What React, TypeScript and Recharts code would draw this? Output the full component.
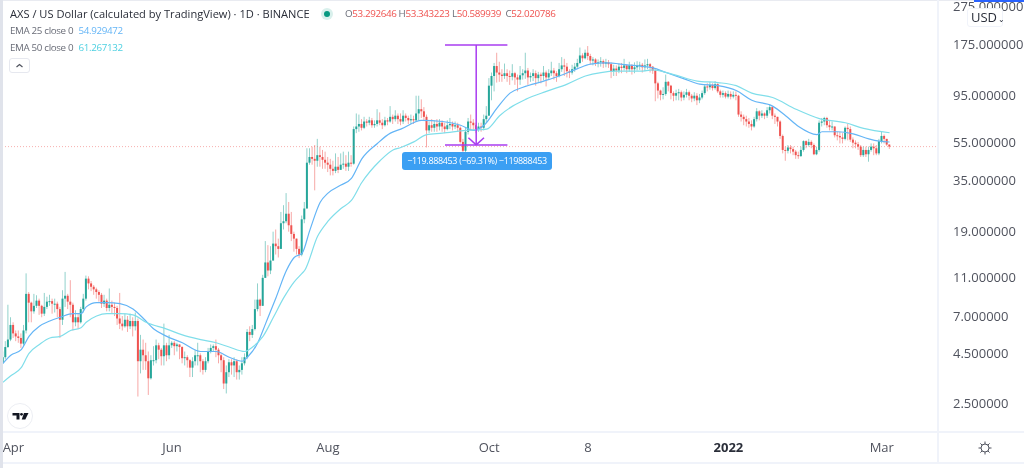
import React from 'react';
import { ComposedChart, Bar, Line, XAxis, YAxis, ReferenceLine } from 'recharts';

// daily closes, 10 per row; each candle opens at the previous close
const closes = [
  4.3, 4.85, 5.3, 6.3, 5.7, 5.5, 5.4, 5.05, 5.9, 9.1,
  8.2, 7.4, 7.9, 8.4, 7.9, 7.2, 7.8, 8.3, 8.35, 8.1,
  8.1, 7.6, 6.7, 8.6, 8.9, 8.3, 8.0, 6.5, 6.9, 6.5,
  7.6, 8.6, 10.9, 10.3, 9.9, 9.6, 9.3, 9.0, 8.1, 8.4,
  7.7, 8.0, 7.8, 7.7, 6.8, 6.4, 6.2, 6.7, 6.2, 6.6,
  6.2, 6.6, 4.1, 4.7, 4.4, 4.1, 3.35, 4.15, 4.15, 4.95,
  4.7, 4.35, 4.95, 4.4, 4.95, 5.1, 4.9, 5.0, 4.85, 4.25,
  4.3, 4.15, 3.8, 4.1, 4.4, 4.4, 4.1, 3.7, 4.1, 4.6,
  4.8, 4.9, 4.7, 4.4, 4.15, 3.15, 3.6, 4.05, 3.9, 4.1,
  3.6, 3.7, 4.0, 4.3, 5.8, 5.6, 6.0, 7.6, 8.5, 7.9,
  11, 13.2, 12, 13.5, 16.5, 16, 15.5, 21, 21.5, 23.5,
  20.5, 18.5, 17.5, 15.5, 14.5, 22, 25, 43, 46, 45,
  44, 47, 46, 44.5, 43, 42, 40, 39, 41, 39.5,
  42, 42.5, 41, 43, 42.5, 64, 66, 68, 65, 70,
  69, 71, 67, 68, 71, 69, 67, 71, 70, 74,
  72, 75, 72, 70, 75, 73, 71, 72, 71, 77,
  81, 79, 74, 63, 67, 65, 68, 66, 69, 66,
  64, 67, 68, 66, 67, 65, 55, 49.5, 62, 70,
  69, 67, 64, 66, 65, 72, 75, 107, 120, 135,
  125, 122, 120, 124, 120, 119, 124, 118, 115, 121,
  124, 128, 118, 120, 124, 117, 122, 120, 125, 118,
  124, 128, 124, 120, 130, 136, 134, 127, 125, 130,
  134, 140, 153, 148, 158, 152, 144, 146, 140, 141,
  143, 139, 141, 138, 127, 131, 128, 134, 132, 136,
  130, 136, 130, 133, 136, 137, 133, 136, 138, 134,
  128, 110, 101, 96, 97, 112, 107, 98, 95, 98,
  99, 93, 96, 99, 95, 92, 95, 90, 93, 98,
  106, 105, 108, 104, 109, 100, 96, 98, 94, 97,
  94, 96, 95, 76, 74, 72, 70, 68, 66, 72,
  79, 75, 77, 75, 80, 83, 75, 74, 70, 59,
  50, 49.5, 51.5, 50.5, 49, 47, 46.5, 50, 55.5, 53,
  55, 53, 47.5, 50, 69, 70, 73, 67, 65.5, 66,
  59.5, 59, 58, 57, 65, 64, 56.5, 54.5, 53.5, 52,
  47, 50, 47.5, 50, 52, 51, 48, 55.5, 59, 57,
  53.29, 52.02,
];

const highs = [
  4.6, 5.2, 8.0, 6.9, 6.5, 5.9, 5.9, 5.7, 6.3, 11.6,
  9.3, 8.3, 9.1, 8.95, 8.6, 8.0, 9.2, 8.8, 9.0, 8.6,
  8.6, 8.3, 7.8, 9.5, 11.8, 9.1, 10.7, 8.2, 7.5, 7.2,
  7.8, 9.1, 11.3, 11.2, 10.6, 10.1, 9.8, 9.5, 9.2, 9.0,
  8.6, 9.7, 8.4, 8.2, 7.9, 9.2, 7.0, 7.2, 7.0, 7.2,
  6.9, 7.3, 6.8, 5.6, 5.3, 5.1, 4.6, 4.4, 4.9, 5.3,
  5.1, 4.8, 6.4, 5.1, 5.6, 5.2, 5.2, 5.1, 5.0, 4.9,
  4.6, 4.4, 4.2, 4.3, 4.7, 5.1, 4.5, 4.2, 4.3, 4.8,
  5.0, 5.0, 5.3, 4.8, 4.5, 4.3, 3.9, 4.2, 4.2, 4.3,
  4.2, 3.9, 4.3, 4.5, 6.0, 6.2, 6.3, 8.5, 10.3, 8.6,
  11.4, 17, 16.2, 16, 19, 19.5, 17.5, 24, 26, 30,
  27, 24, 19, 17.5, 16, 23, 27, 51, 51, 52,
  53, 57, 52, 50, 49, 46, 45, 44, 48, 46,
  48, 49, 47, 49, 47, 66, 77, 76, 72, 74,
  72, 74, 73, 71, 81, 78, 72, 74, 73, 84,
  76, 80, 77, 77, 80, 77, 75, 76, 75, 95,
  95, 91, 83, 76, 70, 72, 71, 72, 72, 71,
  69, 71, 73, 70, 70, 69, 66, 57, 65, 73,
  76, 72, 69, 69, 69, 76, 84, 117, 125, 140,
  158, 142, 130, 139, 130, 128, 138, 126, 122, 135,
  130, 158, 132, 125, 130, 128, 126, 125, 135, 128,
  130, 142, 132, 127, 140, 150, 147, 140, 130, 137,
  140, 147, 168, 157, 164, 171, 156, 150, 148, 146,
  150, 146, 147, 145, 141, 137, 136, 139, 140, 147,
  138, 142, 138, 141, 143, 142, 140, 146, 147, 140,
  135, 130, 112, 102, 105, 122, 113, 108, 100, 102,
  103, 101, 100, 103, 101, 97, 99, 98, 97, 101,
  108, 110, 112, 110, 113, 110, 102, 101, 100, 101,
  100, 100, 100, 96, 79, 76, 75, 73, 71, 74,
  82, 80, 80, 78, 83, 86, 84, 77, 74, 71,
  60, 52, 53, 53, 52, 50, 49, 52, 56, 56,
  57, 56, 54, 52, 71, 73, 74, 74, 71, 70,
  66, 62, 62, 61, 66, 68, 66, 58, 56, 55,
  53, 52, 52, 52, 54, 54, 53, 57, 62, 60,
  57, 53.34,
];

const lows = [
  4.0, 4.2, 4.8, 5.2, 5.4, 5.2, 5.1, 4.8, 4.9, 5.7,
  6.5, 6.5, 7.2, 7.7, 7.1, 6.9, 7.0, 7.6, 7.9, 7.2,
  7.3, 6.9, 5.4, 6.3, 7.8, 7.6, 6.9, 5.9, 6.2, 6.0,
  6.4, 7.3, 8.4, 9.6, 9.4, 9.0, 8.6, 8.3, 7.7, 7.8,
  7.4, 7.4, 7.2, 7.0, 6.3, 6.0, 5.9, 6.1, 5.8, 6.0,
  5.5, 5.9, 2.7, 3.55, 3.7, 3.7, 2.75, 3.3, 3.9, 4.0,
  4.2, 3.9, 3.9, 4.1, 4.2, 4.8, 4.4, 4.6, 4.2, 4.0,
  3.9, 3.8, 3.4, 3.4, 3.9, 3.9, 3.6, 3.5, 3.6, 4.0,
  4.5, 4.6, 4.3, 4.0, 3.6, 2.95, 2.8, 3.4, 3.5, 3.4,
  3.3, 3.3, 3.5, 3.9, 4.2, 5.2, 5.4, 5.9, 7.4, 7.0,
  7.9, 11, 11.2, 11.5, 13.5, 14.5, 14, 15.5, 19.5, 21,
  19, 17, 15, 14.5, 13.9, 14.2, 21, 25, 42, 42,
  31, 41, 41, 40, 40, 38.5, 37, 37, 38, 38,
  39.5, 40, 39, 39, 41, 42, 61, 62, 63, 64,
  66, 67, 65, 65, 66, 67, 64, 66, 67, 69,
  68, 70, 68, 67, 68, 70, 68, 68, 68, 70,
  71, 73, 71, 51.5, 61, 62, 62, 62, 63, 62,
  61, 63, 64, 63, 64, 62, 54, 48, 47, 60,
  63, 63, 61, 62, 62, 63, 69, 75, 90, 100,
  111, 112, 112, 116, 112, 108, 114, 108, 100, 108,
  115, 116, 108, 112, 113, 107, 112, 110, 114, 106,
  116, 120, 115, 112, 118, 126, 120, 118, 117, 122,
  126, 132, 138, 142, 146, 145, 138, 136, 135, 133,
  134, 132, 133, 132, 117, 120, 120, 124, 124, 128,
  124, 126, 122, 124, 128, 129, 125, 127, 130, 125,
  123, 89, 92, 90, 91, 95, 100, 91, 89, 90,
  90, 89, 90, 93, 90, 88, 89, 85, 87, 91,
  96, 100, 102, 101, 102, 98, 93, 93, 92, 92,
  91, 92, 90, 74, 70, 67, 66, 65, 63, 65,
  70, 71, 73, 72, 73, 77, 72, 68, 66, 57,
  48, 44, 48, 48, 47, 45, 45, 46, 49, 51,
  52, 51, 47, 47, 49, 66, 67, 65, 63, 63,
  58, 56, 54, 54, 56, 56, 55, 51, 51, 50,
  46, 46, 46, 43.5, 49, 47, 47, 47, 54, 54,
  52.5, 50.59,
];

// EMA readings: [candle index, price]
const ema25Points = [
  [0, 4.0], [3, 4.4], [7, 4.7], [10, 5.5], [14, 6.2], [18, 6.6], [22, 6.9], [27, 7.2], [30, 7.2], [32, 7.8],
  [36, 8.2], [40, 8.2], [45, 8.1], [50, 7.6], [54, 6.8], [58, 6.0], [63, 5.5], [69, 5.1], [76, 4.6], [82, 4.6],
  [87, 4.3], [92, 4.1], [94, 4.3], [98, 5.1], [101, 6.4], [105, 8.7], [109, 12], [112, 14], [115, 14.7], [118, 19.3],
  [122, 26.9], [125, 30], [130, 33], [134, 35.7], [138, 45], [144, 54], [149, 61], [153, 64], [161, 71], [169, 70],
  [176, 67], [181, 63], [185, 67], [190, 82], [195, 98], [200, 105], [208, 113], [214, 120], [221, 131], [226, 138],
  [232, 140], [240, 137], [245, 135], [250, 132], [255, 125], [262, 116], [268, 109], [275, 107], [282, 101], [288, 90],
  [296, 84], [301, 75], [306, 66], [313, 60], [315, 62], [321, 62], [327, 60.5], [333, 57], [337, 55.5], [341, 54.93],
];
const ema50Points = [
  [0, 3.2], [3, 3.45], [7, 3.8], [10, 4.5], [14, 5.0], [18, 5.4], [22, 5.5], [26, 5.9], [30, 6.1], [32, 6.5],
  [36, 7.0], [40, 7.2], [45, 7.2], [50, 7.1], [55, 6.5], [63, 6.0], [69, 5.6], [76, 5.3], [82, 5.1], [87, 4.85],
  [93, 4.6], [96, 4.85], [100, 5.5], [104, 6.9], [108, 8.7], [112, 10.5], [115, 11.6], [116, 12], [121, 18], [125, 21.5],
  [130, 25], [134, 27.5], [138, 34], [145, 44], [150, 50], [153, 51.5], [158, 55], [163, 60], [169, 61], [178, 63],
  [186, 64], [191, 75], [196, 84], [201, 91], [209, 100], [217, 109], [224, 120], [230, 125], [236, 127], [245, 127],
  [250, 129], [258, 122], [267, 113], [275, 111], [282, 107], [288, 98], [296, 93], [305, 81], [314, 72.5], [324, 69],
  [331, 64.5], [341, 61.27],
];

const priceTicks = [275, 175, 95, 55, 35, 19, 11, 7, 4.5, 2.5];
const timeTicks = [4, 65, 125, 187, 225, 279, 338];
const timeLabels = ['Apr', 'Jun', 'Aug', 'Oct', '8', '2022', 'Mar'];
const lastPrice = 52.02;

// measure tool drawing
const measureFrom = 172.98;
const measureTo = 53.09;
const measureLeft = 170;
const measureMid = 182;
const measureRight = 194;
const arrowWing = 57.8;
const arrowSpread = 3;

const UP = '#26a69a';
const DOWN = '#ef5350';
const PURPLE = '#a93cf0';
const FONT = '"Open Sans", sans-serif';

const candles = closes.map((close, i) => {
  const open = i === 0 ? 4.0 : closes[i - 1];
  const high = Math.max(highs[i], open, close);
  const low = Math.min(lows[i], open, close);
  return { i, open, close, high, low, range: [low, high] };
});
const ema25 = ema25Points.map(([i, v]) => ({ i, v }));
const ema50 = ema50Points.map(([i, v]) => ({ i, v }));

const Candle = (props: any) => {
  const { x, y, width, height, payload } = props;
  const span = Math.log(payload.high) - Math.log(payload.low);
  const toY = (p: number) => y + (height * (Math.log(payload.high) - Math.log(p))) / span;
  const cx = x + width / 2;
  const top = toY(Math.max(payload.open, payload.close));
  const bottom = toY(Math.min(payload.open, payload.close));
  const color = payload.close >= payload.open ? UP : DOWN;
  return (
    <g>
      <line x1={cx} x2={cx} y1={y} y2={y + height} stroke={color} strokeOpacity={0.5} strokeWidth={1} />
      <rect x={cx - 1} y={top} width={2} height={Math.max(bottom - top, 1)} fill={color} />
    </g>
  );
};

const TimeTick = (props: any) => {
  const { x, y, payload } = props;
  const label = timeLabels[timeTicks.indexOf(payload.value)];
  const bold = label === '2022';
  return (
    <text x={x} y={y} textAnchor="middle" fontFamily={FONT} fontSize={13} fontWeight={bold ? 700 : 400} fill={bold ? '#2a2e39' : '#50535e'}>
      {label}
    </text>
  );
};

const legendRow: React.CSSProperties = { position: 'absolute', left: 10, whiteSpace: 'nowrap', fontFamily: FONT };

const Legend = () => (
  <>
    <div style={{ ...legendRow, top: 6, fontSize: 11.1, color: '#2a2e39' }}>
      AXS / US Dollar (calculated by TradingView) · 1D · BINANCE
    </div>
    <div style={{ position: 'absolute', left: 321, top: 8, width: 12, height: 12, borderRadius: 6, background: '#d9f0ec' }}>
      <div style={{ position: 'absolute', left: 3, top: 3, width: 6, height: 6, borderRadius: 3, background: '#089981' }} />
    </div>
    <div style={{ ...legendRow, left: 345, top: 7, fontSize: 9.8, letterSpacing: -0.35, color: '#ef5350' }}>
      {[['O', '53.292646'], ['H', '53.343223'], ['L', '50.589939'], ['C', '52.020786']].map(([k, v]) => (
        <span key={k} style={{ display: 'inline-block', width: 53.5 }}>
          <span style={{ color: '#6a6d78' }}>{k}</span>
          {v}
        </span>
      ))}
    </div>
    <div style={{ ...legendRow, top: 24, fontSize: 9.8, letterSpacing: -0.35, color: '#6a6d78' }}>
      EMA 25 close 0 <span style={{ color: '#64b5f6', marginLeft: 3 }}>54.929472</span>
    </div>
    <div style={{ ...legendRow, top: 41, fontSize: 9.8, letterSpacing: -0.35, color: '#6a6d78' }}>
      EMA 50 close 0 <span style={{ color: '#4dd0e1', marginLeft: 3 }}>61.267132</span>
    </div>
    <div style={{ position: 'absolute', left: 9, top: 58, width: 21, height: 15, border: '1px solid #e6e8ef', borderRadius: 3, boxSizing: 'border-box' }}>
      <svg width={19} height={13} style={{ display: 'block' }}>
        <path d="M6.5 8 L9.5 5.5 L12.5 8" fill="none" stroke="#50535e" strokeWidth={1.2} />
      </svg>
    </div>
  </>
);

const Chrome = () => (
  <>
    {/* frame lines */}
    <div style={{ position: 'absolute', left: 0, top: 0, width: 3, height: 468, background: '#e0e3eb' }} />
    <div style={{ position: 'absolute', left: 3, top: 0, width: 1021, height: 1, background: '#e9ebf1' }} />
    <div style={{ position: 'absolute', left: 974, top: 0, width: 50, height: 2, background: '#2962ff' }} />
    <div style={{ position: 'absolute', left: 937, top: 0, width: 2, height: 464, background: '#f0f3fa' }} />
    <div style={{ position: 'absolute', left: 3, top: 431, width: 1021, height: 2, background: '#f0f3fa' }} />
    <div style={{ position: 'absolute', left: 3, top: 462, width: 1021, height: 2, background: '#f0f3fa' }} />
    {/* currency button */}
    <div
      style={{
        position: 'absolute', left: 967, top: 8, width: 36, height: 19, background: '#fff', borderRadius: 3,
        boxSizing: 'border-box', border: '1px solid #f0f3fa', fontFamily: FONT, fontSize: 13, color: '#2a2e39', lineHeight: '17px', paddingLeft: 3,
      }}
    >
      USD<span style={{ fontSize: 8, marginLeft: 1 }}>⌄</span>
    </div>
    {/* settings gear */}
    <svg width={16} height={16} style={{ position: 'absolute', left: 977, top: 440 }}>
      <circle cx={8} cy={8} r={4} fill="none" stroke="#50535e" strokeWidth={1} />
      <path d="M8 1.5V4M8 12v2.5M1.5 8H4M12 8h2.5M3.4 3.4l1.8 1.8M10.8 10.8l1.8 1.8M3.4 12.6l1.8-1.8M10.8 5.2l1.8-1.8" stroke="#50535e" strokeWidth={1} />
    </svg>
    {/* logo */}
    <svg width={26} height={26} style={{ position: 'absolute', left: 7, top: 403 }}>
      <circle cx={13} cy={13} r={12.5} fill="#fff" stroke="#eceef3" />
      <path d="M5.5 10h7v6.5h-3V12.6h-4z" fill="#131722" />
      <circle cx={14.5} cy={11.3} r={1.4} fill="#131722" />
      <path d="M17 10h4.5l-3.2 6.5h-3.6z" fill="#131722" />
    </svg>
    {/* measure label */}
    <div
      style={{
        position: 'absolute', left: 402, top: 152, width: 150, height: 18, background: '#3b9ff3', borderRadius: 3,
        fontFamily: FONT, fontSize: 9, letterSpacing: -0.35, color: '#fff', lineHeight: '18px', textAlign: 'center', whiteSpace: 'nowrap',
      }}
    >
      −119.888453 (−69.31%) −119888453
    </div>
  </>
);

export default function App() {
  return (
    <div style={{ position: 'absolute', left: 0, top: 0, width: 1024, height: 468, background: '#fff', overflow: 'hidden', filter: 'blur(0.3px)' }}>
      <ComposedChart
        width={1024}
        height={468}
        data={candles}
        margin={{ top: 0, right: 0, bottom: 0, left: 3 }}
      >
        <XAxis
          dataKey="i"
          type="number"
          domain={[0, 360]}
          ticks={timeTicks}
          tick={<TimeTick />}
          tickLine={false}
          axisLine={false}
          height={36}
          tickMargin={14}
          interval={0}
          allowDataOverflow
        />
        <YAxis
          orientation="right"
          scale="log"
          domain={[1.774, 295]}
          ticks={priceTicks}
          interval={0}
          width={85}
          tickLine={false}
          axisLine={false}
          tickMargin={8}
          allowDataOverflow
          tick={{ fontFamily: FONT, fontSize: 13, fill: '#50535e' }}
          tickFormatter={(v: number) => v.toFixed(6)}
        />
        <ReferenceLine y={lastPrice} stroke="#ef5350" strokeOpacity={0.45} strokeDasharray="1 2" />
        <Bar dataKey="range" barSize={2} shape={<Candle />} isAnimationActive={false} />
        <Line data={ema25} dataKey="v" stroke="#64b5f6" strokeWidth={1.2} dot={false} type="monotone" isAnimationActive={false} />
        <Line data={ema50} dataKey="v" stroke="#80deea" strokeWidth={1.2} dot={false} type="monotone" isAnimationActive={false} />
        <ReferenceLine segment={[{ x: measureLeft, y: measureFrom }, { x: measureRight, y: measureFrom }]} stroke={PURPLE} strokeWidth={1.5} />
        <ReferenceLine segment={[{ x: measureLeft, y: measureTo }, { x: measureRight, y: measureTo }]} stroke={PURPLE} strokeWidth={1.5} />
        <ReferenceLine segment={[{ x: measureMid, y: measureFrom }, { x: measureMid, y: measureTo }]} stroke={PURPLE} strokeWidth={1.5} />
        <ReferenceLine segment={[{ x: measureMid - arrowSpread, y: arrowWing }, { x: measureMid, y: measureTo }]} stroke={PURPLE} strokeWidth={1.5} />
        <ReferenceLine segment={[{ x: measureMid + arrowSpread, y: arrowWing }, { x: measureMid, y: measureTo }]} stroke={PURPLE} strokeWidth={1.5} />
      </ComposedChart>
      <Chrome />
      <Legend />
    </div>
  );
}
